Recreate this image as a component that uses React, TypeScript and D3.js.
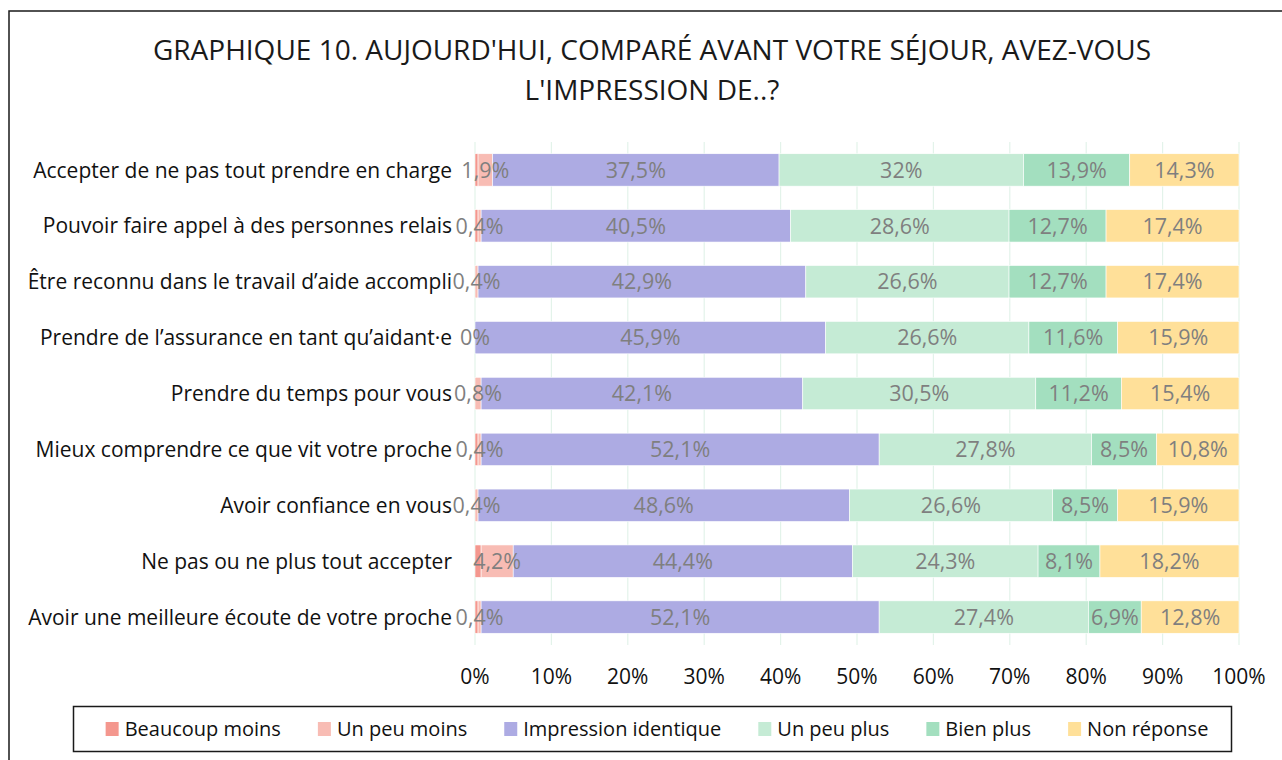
import React, { useEffect, useRef } from "react";
import * as d3 from "d3";

const categories = [
  "Accepter de ne pas tout prendre en charge",
  "Pouvoir faire appel à des personnes relais",
  "Être reconnu dans le travail d’aide accompli",
  "Prendre de l’assurance en tant qu’aidant·e",
  "Prendre du temps pour vous",
  "Mieux comprendre ce que vit votre proche",
  "Avoir confiance en vous",
  "Ne pas ou ne plus tout accepter",
  "Avoir une meilleure écoute de votre proche",
];

const seriesNames = [
  "Beaucoup moins",
  "Un peu moins",
  "Impression identique",
  "Un peu plus",
  "Bien plus",
  "Non réponse",
];

const beaucoupMoins = [0.4, 0.4, 0, 0, 0, 0.4, 0, 0.8, 0.4];
const unPeuMoins = [1.9, 0.4, 0.4, 0, 0.8, 0.4, 0.4, 4.2, 0.4];
const impressionIdentique = [37.5, 40.5, 42.9, 45.9, 42.1, 52.1, 48.6, 44.4, 52.1];
const unPeuPlus = [32, 28.6, 26.6, 26.6, 30.5, 27.8, 26.6, 24.3, 27.4];
const bienPlus = [13.9, 12.7, 12.7, 11.6, 11.2, 8.5, 8.5, 8.1, 6.9];
const nonReponse = [14.3, 17.4, 17.4, 15.9, 15.4, 10.8, 15.9, 18.2, 12.8];

const seriesValues = [beaucoupMoins, unPeuMoins, impressionIdentique, unPeuPlus, bienPlus, nonReponse];
const showLabels = [false, true, true, true, true, true];
const colors = ["#F4978E", "#F8BCB4", "#ADABE3", "#C5EBD5", "#A3DFBF", "#FFE099"];

const xTicks = [0, 10, 20, 30, 40, 50, 60, 70, 80, 90, 100];

const titleLines = [
  "GRAPHIQUE 10. AUJOURD'HUI, COMPARÉ AVANT VOTRE SÉJOUR, AVEZ-VOUS",
  "L'IMPRESSION DE..?",
];

const FONT = "'Open Sans', Lato, sans-serif";
const W = 1282;
const H = 760;

const fmt = (v: number) => String(v).replace(".", ",") + "%";

export default function App() {
  const ref = useRef<SVGSVGElement | null>(null);

  useEffect(() => {
    const svg = d3.select(ref.current);
    svg.selectAll("*").remove();

    // outer frame
    svg.append("rect")
      .attr("x", 9).attr("y", 11).attr("width", 1400).attr("height", 900)
      .attr("fill", "white").attr("stroke", "#1a1a1a").attr("stroke-width", 1.5);

    // title
    const title = svg.append("text")
      .attr("text-anchor", "middle").attr("font-family", FONT)
      .attr("font-size", 28).attr("fill", "#1a1a1a");
    titleLines.forEach((t, i) => {
      title.append("tspan").attr("x", 652).attr("y", 60 + i * 40).text(t);
    });

    const x = d3.scaleLinear().domain([0, 100]).range([475, 1239]);
    const y = d3.scaleBand().domain(categories).range([142, 645]).paddingInner(0.42).paddingOuter(0.21);

    // gridlines
    svg.append("g").selectAll("line").data(xTicks).join("line")
      .attr("x1", (d) => x(d)).attr("x2", (d) => x(d))
      .attr("y1", 142).attr("y2", 645)
      .attr("stroke", "#E3F3EA").attr("stroke-width", 1.2);

    // stacked data
    const rows = categories.map((c, i) => {
      const r: any = { cat: c };
      seriesNames.forEach((s, j) => (r[s] = seriesValues[j][i]));
      return r;
    });
    const stack = d3.stack().keys(seriesNames)(rows as any);

    const g = svg.append("g");
    stack.forEach((layer, j) => {
      g.append("g").selectAll("rect").data(layer).join("rect")
        .attr("x", (d) => x(d[0]))
        .attr("width", (d) => Math.max(0, x(d[1]) - x(d[0])))
        .attr("y", (d: any) => y(d.data.cat)!)
        .attr("height", y.bandwidth())
        .attr("fill", colors[j])
        .attr("stroke", "white").attr("stroke-width", 0.6);
    });
    stack.forEach((layer, j) => {
      if (!showLabels[j]) return;
      g.append("g").selectAll("text").data(layer).join("text")
        .attr("x", (d) => x((d[0] + d[1]) / 2))
        .attr("y", (d: any) => y(d.data.cat)! + y.bandwidth() / 2)
        .attr("dy", "0.36em")
        .attr("text-anchor", "middle")
        .attr("font-family", FONT).attr("font-size", 21.5)
        .attr("fill", "#7F7F7F")
        .text((d: any) => fmt(d.data[seriesNames[j]]));
    });

    // category labels
    svg.append("g").selectAll("text").data(categories).join("text")
      .attr("x", 452)
      .attr("y", (d) => y(d)! + y.bandwidth() / 2)
      .attr("dy", "0.36em")
      .attr("text-anchor", "end")
      .attr("font-family", FONT).attr("font-size", 21)
      .attr("fill", "#111")
      .text((d) => d);

    // x tick labels
    svg.append("g").selectAll("text").data(xTicks).join("text")
      .attr("x", (d) => x(d)).attr("y", 676).attr("dy", "0.36em")
      .attr("text-anchor", "middle")
      .attr("font-family", FONT).attr("font-size", 21)
      .attr("fill", "#111")
      .text((d) => d + "%");

    // legend
    svg.append("rect")
      .attr("x", 73.5).attr("y", 706.5).attr("width", 1158).attr("height", 45)
      .attr("fill", "white").attr("stroke", "#1a1a1a").attr("stroke-width", 1.5);
    const lg = svg.append("g");
    const items = seriesNames.map((s, j) => {
      const it = lg.append("g");
      it.append("rect").attr("x", 0).attr("y", -7).attr("width", 13).attr("height", 14).attr("fill", colors[j]);
      const t = it.append("text").attr("x", 19).attr("dy", "0.36em")
        .attr("font-family", FONT).attr("font-size", 20).attr("fill", "#111").text(s);
      const w = 19 + (t.node() as SVGTextElement).getComputedTextLength();
      return { it, w };
    });
    const gap = 37;
    const total = d3.sum(items, (d) => d.w) + gap * (items.length - 1);
    let cx = 657 - total / 2;
    items.forEach(({ it, w }) => {
      it.attr("transform", `translate(${cx},729)`);
      cx += w + gap;
    });
  }, []);

  return (
    <svg ref={ref} width={W} height={H}
      style={{ position: "absolute", left: 0, top: 0, background: "white" }} />
  );
}
